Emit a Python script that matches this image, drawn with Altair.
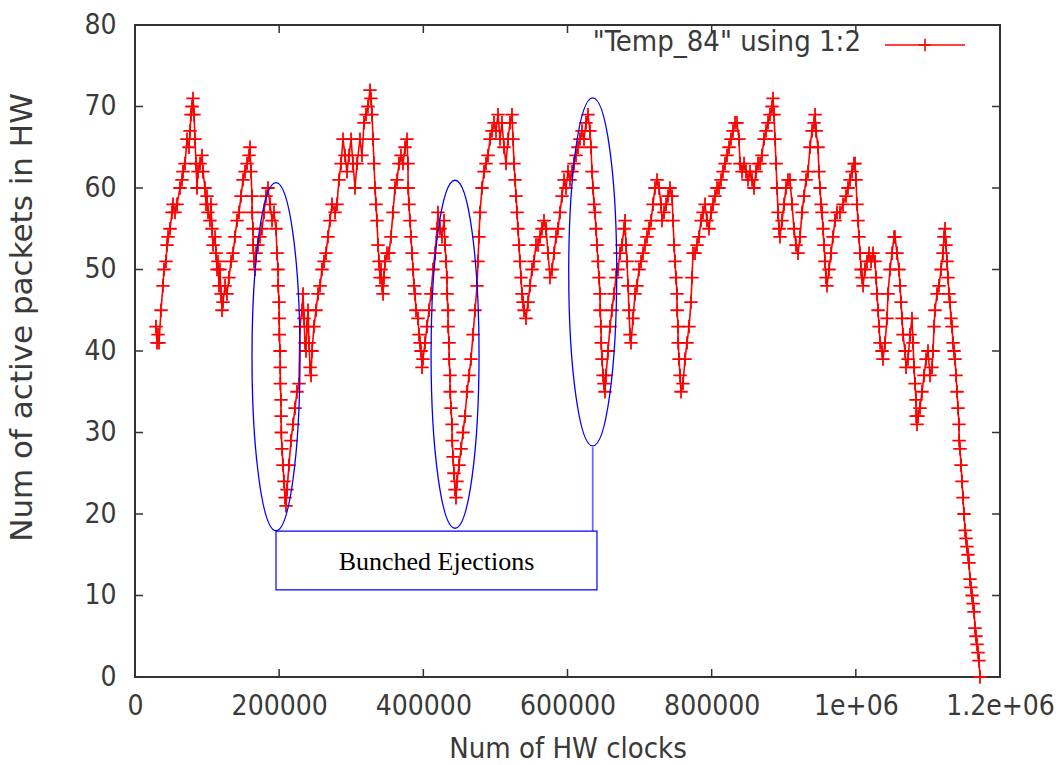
import altair as alt
import pandas as pd

# ---------------- data ----------------
# x values in thousands of HW clocks, y = active packets
CLOCKS_K = [
    29.1, 30.5, 31.9, 33.3,
    36.1, 38.8, 40.2, 43.0, 44.4, 45.8, 48.6, 51.3, 52.7, 55.5, 58.3, 62.4, 65.2, 66.6, 69.4, 72.1, 74.9, 76.3, 77.7, 79.1, 80.5, 81.9,
    83.2, 84.6, 86.0, 87.4, 90.2, 92.9, 94.3, 97.1, 98.5, 99.9, 101.3, 104.0, 105.4, 106.8, 108.2, 111.0, 112.4, 113.8, 115.1, 116.5, 117.9, 119.3, 120.7, 122.1, 124.9,
    127.6, 130.4, 133.2, 136.0, 138.7, 141.5, 144.3, 147.1, 149.8, 152.6, 155.4, 158.2, 159.5, 160.9,
    162.3, 162.5, 163.7, 163.9, 165.1, 166.5, 167.9, 170.6, 173.4, 176.2, 179.0, 181.7, 184.5, 187.3, 190.1, 192.8, 195.6,
    197.0, 198.4, 198.6, 199.8, 200.0, 200.2, 201.2, 201.4, 201.6, 202.5, 202.7, 202.9, 203.9, 205.3, 206.7, 208.1, 209.5, 210.9, 213.6,
    216.4, 219.2, 222.0, 224.7, 227.5, 228.9, 231.7, 233.1, 234.5, 235.8, 237.2, 238.6, 240.0, 241.4, 242.8, 244.2, 245.6, 248.3, 251.1, 253.9,
    256.7, 259.4, 262.2, 265.0, 267.7, 270.5, 273.3, 277.5, 280.2, 283.0, 285.8, 288.6, 291.3, 294.1, 296.9, 299.7, 302.4, 305.2, 308.0, 312.1,
    314.9, 317.7, 320.5, 323.2, 326.0, 327.4,
    328.8, 330.2, 331.6, 333.0, 334.3, 335.7, 337.1, 338.5, 339.9, 341.3, 342.7, 344.1, 345.4, 346.8, 349.6, 352.4, 355.1, 357.9, 360.7, 363.5,
    366.2, 369.0, 371.8, 374.6, 377.3, 378.7,
    378.9, 380.1, 381.5, 382.9, 384.3, 385.7, 387.1, 388.4, 389.8, 392.6, 394.0, 395.4, 396.8, 398.2, 399.5, 402.3,
    405.1, 407.9, 410.6, 413.4, 416.2, 419.0, 420.3, 423.1, 425.9, 428.7, 430.1,
    431.5, 432.8, 433.0, 434.2, 434.4, 435.6, 435.8, 437.0, 437.2, 438.4, 439.8, 440.0, 441.2, 442.5, 443.9, 445.3, 446.7,
    449.5, 452.3, 455.0, 457.8, 460.6, 463.4, 466.1, 468.9, 471.7, 474.5, 475.8, 477.2, 478.6, 481.4, 484.2, 486.9, 489.7, 492.5, 495.3, 498.0,
    500.8, 503.6, 506.4, 509.1, 511.9, 514.7, 517.5, 520.2, 523.0, 524.4,
    525.8, 527.2, 528.6, 530.0, 531.3, 532.7, 534.1, 535.5, 536.9, 538.3, 539.7, 542.4, 545.2,
    548.0, 550.8, 553.5, 556.3, 559.1, 561.9, 564.6, 567.4, 570.2, 573.0, 575.7, 578.5, 581.3, 584.1, 586.8, 589.6, 592.4, 595.2, 597.9, 600.7,
    603.5, 606.3, 609.0, 611.8, 614.6, 617.3, 620.1, 622.9, 625.7, 628.4, 631.2, 632.6,
    634.0, 635.4, 636.8, 638.2, 639.5, 640.9, 642.3, 643.7, 645.1, 645.3, 646.5, 646.7, 647.9, 649.3, 650.6, 652.0, 653.4, 656.2, 659.0,
    661.7, 664.5, 667.3, 670.1, 672.8, 675.6, 678.4, 679.8, 681.2, 682.6, 684.0, 685.3, 686.7, 688.1, 690.9, 693.7, 696.4, 699.2, 702.0, 704.8,
    707.5, 710.3, 713.1, 715.9, 718.6, 721.4, 724.2, 727.0, 729.7, 731.1, 733.9, 736.7, 739.4, 742.2, 745.0, 746.4, 747.8,
    749.1, 750.5, 751.9, 752.1, 753.3, 753.5, 754.7, 756.1, 757.5, 760.2, 763.0, 765.8, 768.6, 771.3, 772.7, 774.1, 776.9, 779.7, 782.4, 785.2,
    788.0, 790.8, 793.5, 796.3, 799.1, 801.9, 804.6, 807.4, 810.2, 813.0, 815.7, 818.5, 821.3, 824.1, 826.8, 829.6, 832.4, 835.2, 837.9, 839.3,
    842.1, 844.9, 847.6, 850.4, 853.2, 856.0, 858.7, 861.5, 864.3, 867.1, 869.8, 872.6, 875.4, 878.2, 880.9, 883.7, 885.1, 886.5,
    887.9, 889.3, 890.7, 892.0, 893.4, 894.8, 897.6, 900.4, 903.1, 905.9, 908.7, 911.5, 914.2, 917.0, 919.8, 922.6, 925.3, 928.1, 930.9, 933.7,
    936.4, 939.2, 942.0, 943.4, 944.8, 947.5, 948.9, 950.3, 951.7, 953.1, 954.5, 955.9, 957.2, 958.6, 960.0, 962.8, 965.6, 968.3, 971.1, 973.9,
    978.0, 982.2, 986.4, 989.1, 991.9, 994.7, 997.5, 998.9, 1000.2,
    1001.6, 1003.0, 1004.4, 1005.8, 1007.2, 1008.6, 1010.0, 1012.7, 1015.5, 1018.3, 1021.1, 1023.8, 1026.6, 1028.0, 1029.4, 1030.8, 1032.2, 1033.6, 1036.3, 1037.7,
    1040.5, 1043.3, 1044.6, 1047.4, 1050.2, 1053.0, 1054.3, 1057.1, 1059.9, 1061.3, 1062.7, 1064.1, 1065.4, 1068.2, 1069.6, 1072.4, 1075.2, 1077.9, 1079.3, 1080.7,
    1082.1, 1083.5, 1083.7, 1084.9, 1086.3, 1089.0, 1091.8, 1094.6, 1097.4, 1100.1, 1102.9, 1105.7, 1107.1, 1108.5, 1109.8, 1112.6, 1115.4, 1118.2, 1120.9, 1122.3,
    1123.7, 1125.1,
    1126.5, 1127.9, 1129.3, 1130.6, 1132.0, 1133.4, 1134.8, 1136.2, 1137.6, 1139.0, 1140.4, 1141.7, 1143.1, 1143.3, 1144.5, 1145.9, 1147.3, 1148.7, 1150.1, 1151.5,
    1152.9, 1154.2, 1155.6, 1157.0, 1158.4, 1159.8, 1161.2, 1162.6, 1164.0, 1165.3, 1166.7, 1168.1, 1169.5, 1170.9, 1172.3,
]

ACTIVE = [
    43, 41, 42, 41,
    45, 48, 50, 51, 53, 54, 55, 57, 58, 57, 58, 60, 61, 62, 63, 66, 65, 67, 69, 70, 71, 69,
    66, 63, 60, 62, 63, 64, 62, 60, 58, 59, 57, 56, 58, 55, 53, 54, 52, 50, 51, 48, 50, 47, 45, 46, 48,
    47, 49, 51, 52, 54, 56, 57, 59, 61, 62, 63, 64, 65, 62,
    59, 57, 55, 53, 51, 50, 52, 53, 54, 55, 57, 59, 60, 58, 56, 57, 55,
    52, 50, 48, 46, 44, 42, 40, 38, 36, 34, 32, 30, 28, 26, 24, 22, 21, 23, 26,
    29, 31, 33, 35, 36, 43, 45, 47, 44, 41, 40, 43, 45, 41, 38, 37, 40, 43, 45, 47,
    48, 50, 51, 52, 54, 56, 58, 57, 58, 61, 63, 66, 64, 62, 64, 66, 63, 60, 63, 66,
    64, 68, 69, 70, 72, 71,
    69, 66, 63, 60, 58, 56, 53, 51, 49, 50, 48, 47, 49, 51, 52, 52, 54, 57, 60, 61,
    63, 64, 63, 65, 66, 63,
    60, 58, 56, 54, 52, 50, 48, 47, 45, 44, 42, 41, 40, 38, 39, 41,
    43, 45, 47, 50, 52, 55, 57, 55, 54, 56, 53,
    51, 49, 47, 45, 43, 41, 39, 37, 35, 33, 31, 29, 27, 25, 23, 22, 24,
    26, 28, 30, 32, 35, 37, 39, 42, 45, 48, 51, 54, 57, 60, 62, 63, 64, 66, 67, 68,
    67, 69, 66, 68, 65, 63, 66, 68, 69, 66,
    63, 61, 59, 57, 55, 53, 51, 49, 47, 46, 45, 44, 46,
    48, 50, 51, 53, 53, 54, 55, 56, 55, 52, 49, 50, 52, 54, 55, 57, 59, 61, 60, 62,
    61, 62, 63, 64, 65, 66, 67, 66, 68, 69, 67, 65,
    62, 60, 58, 57, 55, 53, 51, 49, 47, 45, 43, 41, 39, 37, 36, 35, 37, 40, 43,
    45, 47, 49, 50, 52, 53, 55, 56, 53, 51, 48, 45, 42, 41, 44, 47, 48, 50, 51, 52,
    53, 54, 55, 56, 58, 60, 61, 60, 58, 56, 57, 58, 59, 60, 59, 56, 53,
    51, 49, 47, 45, 43, 41, 39, 37, 35, 36, 39, 41, 43, 46, 49, 52, 52, 53, 54, 56,
    57, 58, 56, 55, 57, 58, 59, 60, 60, 61, 62, 63, 64, 65, 66, 67, 68, 68, 66, 63,
    62, 63, 62, 61, 62, 61, 60, 62, 63, 63, 64, 66, 67, 68, 69, 70, 71, 69,
    66, 63, 60, 57, 55, 54, 56, 58, 60, 61, 61, 58, 55, 53, 52, 54, 57, 59, 61, 62,
    65, 67, 68, 69, 67, 65, 62, 60, 58, 57, 55, 53, 51, 49, 48, 50, 52, 54, 56, 57,
    57, 58, 59, 60, 61, 62, 63, 63, 61,
    58, 56, 54, 52, 50, 49, 48, 50, 51, 52, 51, 52, 51, 49, 47, 45, 43, 41, 40, 39,
    41, 44, 47, 50, 52, 54, 54, 52, 50, 48, 46, 44, 42, 40, 38, 39, 42, 44, 41, 38,
    36, 34, 32, 31, 32, 33, 35, 37, 39, 40, 37, 38, 40, 43, 45, 47, 48, 50, 52, 54,
    55, 53,
    51, 49, 47, 46, 44, 43, 41, 40, 39, 37, 35, 33, 31, 29, 28, 26, 24, 22, 20, 18,
    17, 16, 15, 14, 12, 11, 10, 9, 8, 6, 5, 4, 3, 2, 0,
]

X_TICKS = [0, 200000, 400000, 600000, 800000, 1000000, 1200000]
X_TICK_LABELS = ["0", "200000", "400000", "600000", "800000", "1e+06", "1.2e+06"]
Y_TICKS = [0, 10, 20, 30, 40, 50, 60, 70, 80]

X_TITLE = "Num of HW clocks"
Y_TITLE = "Num of active packets in HW"
LEGEND_LABEL = '"Temp_84" using 1:2'

# annotation (in data units): ellipse centres, call-out box, connector
ELLIPSE_X = [195600, 444000, 635000]
ELLIPSE_Y = [39.3, 39.6, 49.7]
BOX_X = [195600, 640900]
BOX_Y = [10.7, 17.9]
BOX_TEXT = "Bunched Ejections"
CONNECTOR_X = 635000
CONNECTOR_Y = [28.2, 17.9]

n = min(len(CLOCKS_K), len(ACTIVE))
df = pd.DataFrame({
    "x": [v * 1000 for v in CLOCKS_K[:n]],
    "y": ACTIVE[:n],
    "i": list(range(n)),
})

W, H = 865, 652
XS = alt.Scale(domain=[0, 1200000], nice=False, zero=False)
YS = alt.Scale(domain=[0, 80], nice=False, zero=False)
TXT = "#3a3a3a"
FONT = "DejaVu Sans Condensed, Liberation Sans Narrow, DejaVu Sans"
YFONT = "DejaVu Sans"
AX = "#333333"

label_expr = " : ".join(
    f"datum.value == {v} ? '{l}'" for v, l in zip(X_TICKS, X_TICK_LABELS)
) + " : ''"

x_axis = alt.Axis(
    values=X_TICKS, labelExpr=label_expr, ticks=False, domain=False, grid=False,
    labelPadding=15, labelFontSize=28, labelFont=FONT, labelColor=TXT,
    labelFlush=False, labelOverlap=False,
    titleFont=FONT, titleFontSize=29, titleFontWeight="normal", titleColor=TXT,
    titleY=71, titleBaseline="middle",
)
y_axis = alt.Axis(
    values=Y_TICKS, ticks=False, domain=False, grid=False,
    labelPadding=19, labelFontSize=28, labelFont=FONT, labelColor=TXT,
    labelFlush=False, labelOverlap=False,
    titleFont=YFONT, titleFontSize=31, titleFontWeight="normal", titleColor=TXT,
    titleX=-113, titleY=292, titleBaseline="middle",
)

line = alt.Chart(df).mark_line(color="#ff0000", strokeWidth=1.6).encode(
    x=alt.X("x:Q", scale=XS, axis=x_axis, title=X_TITLE),
    y=alt.Y("y:Q", scale=YS, axis=y_axis, title=Y_TITLE),
    order="i:Q",
)
CROSS = "M-1,0L1,0M0,-1L0,1"
pts = alt.Chart(df).mark_point(
    shape=CROSS, filled=False, color="#ff0000", strokeWidth=1.8, size=180, opacity=1
).encode(
    x=alt.X("x:Q", scale=XS), y=alt.Y("y:Q", scale=YS)
)

# inward ticks (gnuplot style) on all four sides
xt = pd.DataFrame({"x": X_TICKS})
yt = pd.DataFrame({"y": Y_TICKS})
tick_b = alt.Chart(xt).mark_rule(color=AX, strokeWidth=1.5).encode(
    x=alt.X("x:Q", scale=XS), y=alt.value(H), y2=alt.value(H - 8))
tick_t = alt.Chart(xt).mark_rule(color=AX, strokeWidth=1.5).encode(
    x=alt.X("x:Q", scale=XS), y=alt.value(0), y2=alt.value(8))
tick_l = alt.Chart(yt).mark_rule(color=AX, strokeWidth=1.5).encode(
    y=alt.Y("y:Q", scale=YS), x=alt.value(0), x2=alt.value(8))
tick_r = alt.Chart(yt).mark_rule(color=AX, strokeWidth=1.5).encode(
    y=alt.Y("y:Q", scale=YS), x=alt.value(W), x2=alt.value(W - 8))

# ellipses
RY = 174.0
RX = 24.0
ELLIPSE = (f"M0,-1A{RX/RY:.4f},1 0 1,1 0,1A{RX/RY:.4f},1 0 1,1 0,-1Z")
ell_df = pd.DataFrame({"x": ELLIPSE_X, "y": ELLIPSE_Y})
ellipses = alt.Chart(ell_df).mark_point(
    shape=ELLIPSE, filled=False, color="#0000ff", strokeWidth=1.3,
    size=(2 * RY) ** 2, opacity=1
).encode(x=alt.X("x:Q", scale=XS), y=alt.Y("y:Q", scale=YS))

conn_df = pd.DataFrame({"x": [CONNECTOR_X], "y": [CONNECTOR_Y[0]], "y2": [CONNECTOR_Y[1]]})
connector = alt.Chart(conn_df).mark_rule(color="#6b6bff", strokeWidth=1.8).encode(
    x=alt.X("x:Q", scale=XS), y=alt.Y("y:Q", scale=YS), y2="y2:Q")

box_df = pd.DataFrame({"x": [BOX_X[0]], "x2": [BOX_X[1]], "y": [BOX_Y[0]], "y2": [BOX_Y[1]]})
box = alt.Chart(box_df).mark_rect(fill="white", stroke="#0000ff", strokeWidth=1.2).encode(
    x=alt.X("x:Q", scale=XS), x2="x2:Q", y=alt.Y("y:Q", scale=YS), y2="y2:Q")

txt_df = pd.DataFrame({"x": [(BOX_X[0] + BOX_X[1]) / 2], "y": [(BOX_Y[0] + BOX_Y[1]) / 2], "t": [BOX_TEXT]})
box_text = alt.Chart(txt_df).mark_text(
    font="Liberation Serif", fontSize=26, color="black", baseline="middle", align="center", dy=2
).encode(x=alt.X("x:Q", scale=XS), y=alt.Y("y:Q", scale=YS), text="t:N")

# key (inside top-right)
one = pd.DataFrame({"k": [0]})
key_text = alt.Chart(one).mark_text(
    font=FONT, fontSize=29, color=TXT, align="right", baseline="middle"
).encode(x=alt.value(726), y=alt.value(17), text=alt.value(LEGEND_LABEL))
key_line = alt.Chart(one).mark_rule(color="#ff0000", strokeWidth=1.6).encode(
    x=alt.value(750), x2=alt.value(830), y=alt.value(20))
key_pt = alt.Chart(one).mark_point(
    shape=CROSS, filled=False, color="#ff0000", strokeWidth=1.6, size=160, opacity=1
).encode(x=alt.value(790), y=alt.value(20))

chart = alt.layer(
    line, pts, tick_b, tick_t, tick_l, tick_r,
    ellipses, connector, box, box_text, key_text, key_line, key_pt
).properties(
    width=W, height=H,
    padding={"left": 135, "top": 25, "right": 63, "bottom": 88},
    autosize=alt.AutoSizeParams(type="none"),
    background="white",
).configure_view(stroke=AX, strokeWidth=2)

chart.save("out.html", embed_options={"renderer": "svg", "actions": False})
